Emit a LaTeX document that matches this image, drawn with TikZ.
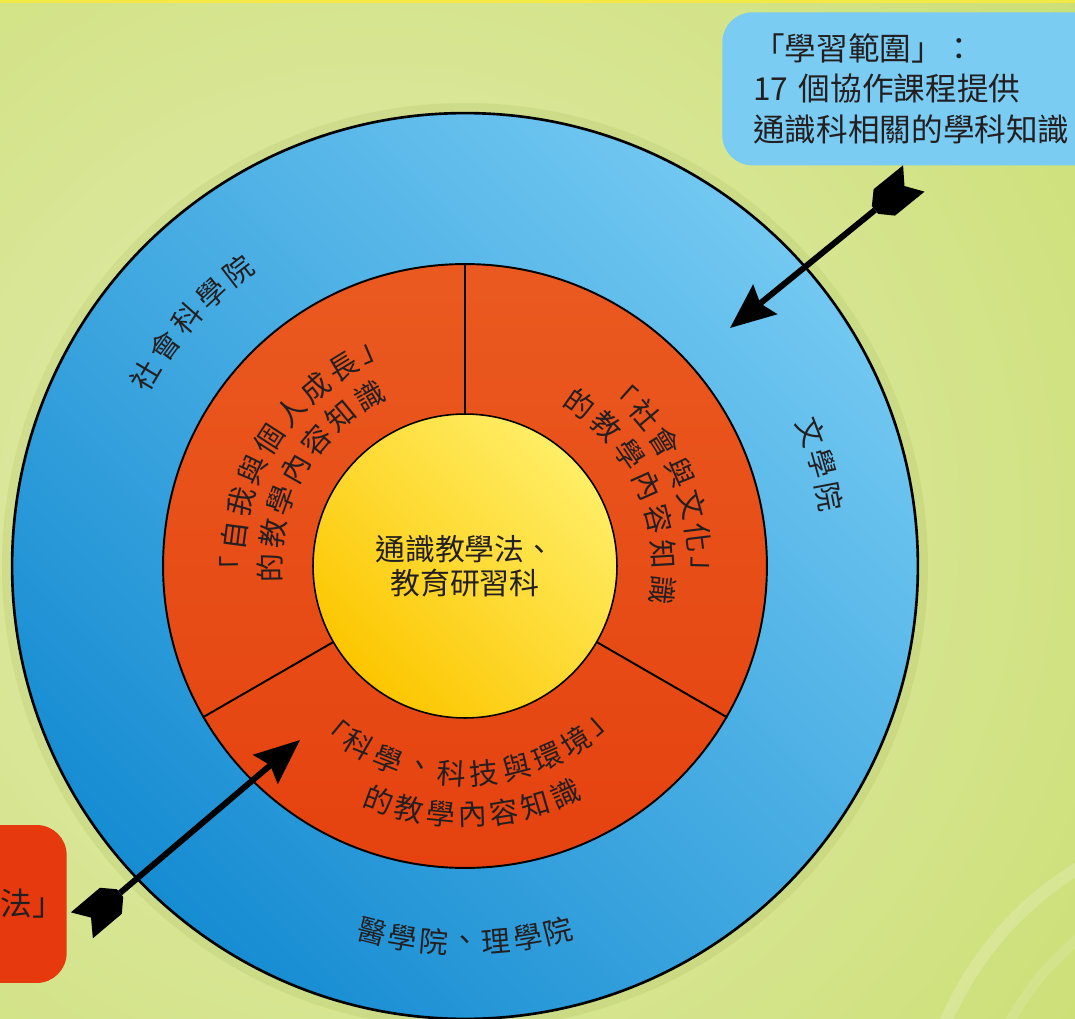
\documentclass[tikz,border=0pt]{standalone}
\usepackage{fontspec}
\newfontfamily\cjk{Noto Sans CJK TC}
\usetikzlibrary{arrows.meta}

\definecolor{bglight}{HTML}{E4ECB3}
\definecolor{bgdark}{HTML}{BBD64B}
\definecolor{bandyellow}{HTML}{F3E845}
\definecolor{bluelight}{HTML}{72C8F1}
\definecolor{bluedark}{HTML}{168CD2}
\definecolor{orangetop}{HTML}{EA5A20}
\definecolor{orangebot}{HTML}{E5420F}
\definecolor{yellowlight}{HTML}{FFEE66}
\definecolor{yellowdark}{HTML}{FCC600}
\definecolor{calloutblue}{HTML}{7ACCF3}
\definecolor{methodred}{HTML}{E63A0E}
\definecolor{inkgray}{HTML}{231F20}

\tikzset{fletch/.pic={\fill[black] (0,5) -- (-12,17) -- (-50,17) -- (-38,0) -- (-50,-17) -- (-12,-17) -- (0,-5) -- cycle;}}

\begin{document}
\begin{tikzpicture}[x=0.02cm, y=0.02cm,
    facultyring/.style={circle, draw=black, line width=1.5pt, top color=bluelight,
                        bottom color=bluedark, shading angle=-45, minimum size=18.12cm, inner sep=0pt},
    pckring/.style={circle, draw=black, line width=1.1pt, top color=orangetop,
                    bottom color=orangebot, minimum size=12.08cm, inner sep=0pt},
    corecircle/.style={circle, draw=black, line width=0.9pt, top color=yellowlight,
                       bottom color=yellowdark, shading angle=-45, minimum size=6.08cm,
                       align=center, text=inkgray, font=\cjk\fontsize{17}{19.5}\selectfont},
    ringchar/.style={inner sep=0pt, text=inkgray, font=\cjk\fontsize{16.5}{16.5}\selectfont},
    calloutbox/.style={rounded corners=0.6cm, fill=calloutblue, align=left, text=inkgray,
                       font=\cjk\fontsize{18}{23}\selectfont},
    methodbox/.style={rounded corners=0.6cm, fill=methodred, align=right, text=inkgray,
                      font=\cjk\fontsize{18}{23}\selectfont},
    dart/.style={draw=black, line width=3.4pt, -{Stealth[length=0.9cm, width=0.75cm, inset=0.12cm]}}]

% background
\begin{scope}
\clip (-465,-452) rectangle (610,566);
\shade[inner color=bglight, outer color=bgdark] (-85,46) circle (1500);
\draw[white, opacity=0.18, line width=0.25cm] (785,-584) circle (330);
\draw[white, opacity=0.12, line width=0.2cm] (785,-584) circle (272);
\end{scope}
\useasboundingbox (-465,-452) rectangle (610,566);
\fill[bandyellow] (-465,563) rectangle (610,566);
\draw[bgdark!70!black, opacity=0.12, line width=0.2cm] (0,0) circle (458);

% rings
\node[facultyring] (faculty) at (0,0) {};
\node[pckring] (pck) at (0,0) {};
\node[corecircle] (core) at (0,0) {通識教學法、\\教育研習科};
\foreach \a in {90,210,330}
  \draw[line width=1.1pt] (core.\a) -- (pck.\a);

% sector texts
\foreach \ch [count=\i from 0] in {「,自,我,與,個,人,成,長,」} {
  \pgfmathsetmacro\ang{181-8.5*\i}
  \node[ringchar, rotate=\ang-90] at (\ang:233) {\ch};
}
\foreach \ch [count=\i from 0] in {的,教,學,內,容,知,識} {
  \pgfmathsetmacro\ang{180.6-10.2*\i}
  \node[ringchar, rotate=\ang-90] at (\ang:195) {\ch};
}
\foreach \ch [count=\i from 0] in {「,社,會,與,文,化,」} {
  \pgfmathsetmacro\ang{48.25-8.25*\i}
  \node[ringchar, rotate=\ang-90] at (\ang:235) {\ch};
}
\foreach \ch [count=\i from 0] in {的,教,學,內,容,知,識} {
  \pgfmathsetmacro\ang{54.9-10.3*\i}
  \node[ringchar, rotate=\ang-90] at (\ang:199) {\ch};
}
\foreach \ch [count=\i from 0] in {「,科,學,、,科,技,與,環,境,」} {
  \pgfmathsetmacro\ang{230.3+9*\i}
  \node[ringchar, rotate=\ang+90] at (\ang:208) {\ch};
}
\foreach \ch [count=\i from 0] in {的,教,學,內,容,知,識} {
  \pgfmathsetmacro\ang{249.8+7.33*\i}
  \node[ringchar, rotate=\ang+90] at (\ang:249) {\ch};
}

% faculty texts
\foreach \ch [count=\i from 0] in {社,會,科,學,院} {
  \pgfmathsetmacro\ang{149.1-5.4*\i}
  \node[ringchar, rotate=\ang-90] at (\ang:372) {\ch};
}
\foreach \ch [count=\i from 0] in {文,學,院} {
  \pgfmathsetmacro\ang{21.15-5.15*\i}
  \node[ringchar, rotate=\ang-90] at (\ang:371) {\ch};
}
\foreach \ch [count=\i from 0] in {醫,學,院,、,理,學,院} {
  \pgfmathsetmacro\ang{255.7+4.77*\i}
  \node[ringchar, rotate=\ang+90] at (\ang:377) {\ch};
}

% callouts
\node[calloutbox, anchor=north west, minimum height=3.06cm, text width=6.6cm,
      inner xsep=0.62cm] (scope) at (257,554) {「學習範圍」：\\17 個協作課程提供\\通識科相關的學科知識};
\node[methodbox, anchor=east, minimum height=3.16cm, text width=2.4cm,
      inner xsep=0.06cm] (method) at (-398,-338) {法」};

% arrows
\coordinate (tailA) at (410,356);
\coordinate (headA) at (265,238);
\coordinate (tailB) at (-345,-327);
\coordinate (headB) at (-165,-174);
\draw[dart] (tailA) -- (headA);
\draw[dart] (tailB) -- (headB);
\pic[rotate=219.1] at (tailA) {fletch};
\pic[rotate=40.3] at (tailB) {fletch};
\end{tikzpicture}
\end{document}
